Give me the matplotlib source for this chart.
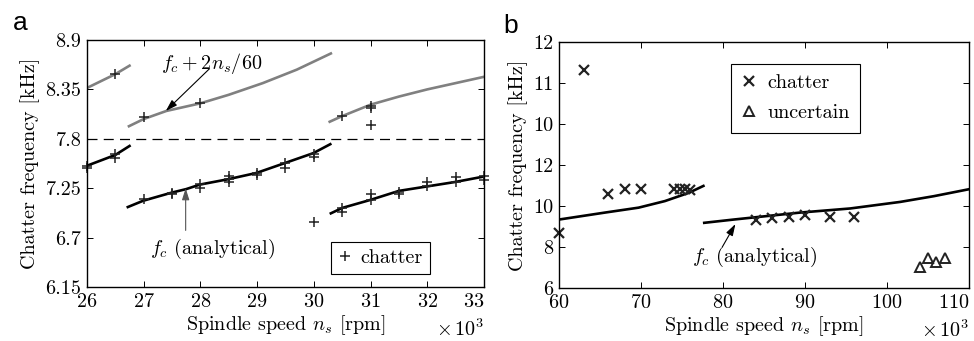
import numpy as np
import matplotlib
matplotlib.use('Agg')
import matplotlib.pyplot as plt

plt.rcParams['font.family'] = 'serif'
plt.rcParams['font.serif'] = ['cmr10']
plt.rcParams['mathtext.fontset'] = 'cm'
plt.rcParams['axes.formatter.use_mathtext'] = True

# ---- panel a data (speed in 10^3 rpm, frequency in kHz) ----
a_gray1_x = [26.0, 26.5, 26.75]
a_gray1_y = [8.366, 8.52, 8.614]
a_gray2_x = [26.74, 27.0, 27.4, 28.0, 28.5, 29.1, 29.7, 30.3]
a_gray2_y = [7.94, 8.02, 8.11, 8.195, 8.29, 8.42, 8.57, 8.75]
a_gray3_x = [30.28, 30.49, 31.0, 31.5, 32.0, 32.5, 33.0]
a_gray3_y = [7.99, 8.05, 8.18, 8.27, 8.35, 8.42, 8.49]

a_blk1_x = [26.0, 26.5, 26.75]
a_blk1_y = [7.50, 7.62, 7.72]
a_blk2_x = [26.72, 26.99, 27.49, 27.75, 27.99, 28.49, 28.99, 29.49, 29.99, 30.29]
a_blk2_y = [7.04, 7.11, 7.20, 7.24, 7.29, 7.35, 7.42, 7.53, 7.64, 7.74]
a_blk3_x = [30.3, 30.5, 31.0, 31.5, 32.0, 32.5, 33.0]
a_blk3_y = [6.97, 7.03, 7.12, 7.22, 7.27, 7.32, 7.38]

a_chat_x = [26, 26, 26.5, 26.5, 26.5, 27, 27, 27.5, 27.5, 28, 28, 28,
            28.5, 28.5, 28.5, 29, 29, 29.5, 29.5, 30, 30, 30,
            30.5, 30.5, 30.5, 31, 31, 31, 31, 31, 31.5, 31.5,
            32, 32, 32.5, 32.5, 33, 33]
a_chat_y = [7.50, 7.47, 8.52, 7.63, 7.59, 8.04, 7.13, 7.20, 7.18, 8.20, 7.30, 7.25,
            7.39, 7.35, 7.32, 7.42, 7.40, 7.53, 7.47, 7.63, 7.60, 6.87,
            8.05, 7.03, 6.98, 8.17, 8.14, 7.95, 7.18, 7.12, 7.21, 7.18,
            7.32, 7.27, 7.37, 7.32, 7.39, 7.34]
a_yticks = [6.15, 6.7, 7.25, 7.8, 8.35, 8.9]
a_yticklabels = ['6.15', '6.7', '7.25', '7.8', '8.35', '8.9']
a_xticks = [26, 27, 28, 29, 30, 31, 32, 33]

# ---- panel b data ----
b_seg1_x = [60, 65.6, 69.7, 72.9, 75.8, 77.6]
b_seg1_y = [7.67, 7.84, 7.96, 8.12, 8.32, 8.49]
b_seg2_x = [77.7, 81.3, 89.4, 95.5, 101.6, 105.7, 110]
b_seg2_y = [7.59, 7.67, 7.84, 7.94, 8.10, 8.24, 8.41]
b_chat_x = [60, 63, 66, 68, 70, 74, 74.7, 75.4, 76, 84, 86, 88, 90, 93, 96]
b_chat_y = [7.33, 11.31, 8.29, 8.41, 8.41, 8.41, 8.41, 8.41, 8.40,
            7.66, 7.70, 7.74, 7.78, 7.72, 7.74]
b_unc_x = [104, 105, 106, 107]
b_unc_y = [6.52, 6.72, 6.64, 6.72]
b_yticks = [6, 7, 8, 9, 10, 11, 12]
b_yticklabels = ['6', '8', '10', '12', '10', '11', '12']
b_xticks = [60, 70, 80, 90, 100, 110]

fig = plt.figure(figsize=(9.74, 3.41), dpi=100)
axa = fig.add_axes([0.0893, 0.1584, 0.4076, 0.7243])
axb = fig.add_axes([0.574, 0.1554, 0.421, 0.7214])

fs = 14.5
gray = '#808080'
arrow = dict(arrowstyle='-|>,head_length=0.7,head_width=0.22', lw=0.8,
             shrinkA=0, shrinkB=0)

# panel a
for xs, ys in [(a_gray1_x, a_gray1_y), (a_gray2_x, a_gray2_y), (a_gray3_x, a_gray3_y)]:
    axa.plot(xs, ys, color=gray, lw=1.9)
for xs, ys in [(a_blk1_x, a_blk1_y), (a_blk2_x, a_blk2_y), (a_blk3_x, a_blk3_y)]:
    axa.plot(xs, ys, color='black', lw=1.9)
axa.axhline(7.8, color='black', lw=0.9, ls=(0, (8, 5)))
axa.plot(a_chat_x, a_chat_y, ls='none', marker='+', ms=6.5, mew=1.1,
         color='#222222', label='chatter', clip_on=False)
axa.set_xlim(26, 33)
axa.set_ylim(6.15, 8.9)
axa.set_xticks(a_xticks)
axa.set_yticks(a_yticks)
axa.set_yticklabels(a_yticklabels)

axa.text(28.19, 8.64, r'$f_c + 2n_s/60$', fontsize=fs, ha='center', va='center')
axa.annotate('', xy=(27.39, 8.11), xytext=(28.16, 8.58),
             arrowprops=dict(color='black', **arrow))
axa.text(28.22, 6.57, r'$f_c$ (analytical)', fontsize=fs, ha='center', va='center')
axa.annotate('', xy=(27.74, 7.25), xytext=(27.74, 6.78),
             arrowprops=dict(color='#555555', **arrow))

lga = axa.legend(loc='lower right', fontsize=fs, handlelength=0.6,
                 handletextpad=0.5, borderpad=0.35, fancybox=False,
                 bbox_to_anchor=(0.864, 0.053), borderaxespad=0,
                 edgecolor='black', framealpha=1)
lga.get_frame().set_linewidth(0.8)
axa.set_xlabel(r'Spindle speed $n_s$ [rpm]', fontsize=fs, labelpad=2)
axa.set_ylabel('Chatter frequency [kHz]', fontsize=fs, labelpad=4)
axa.text(1.0, -0.17, r'$\times\,10^3$', transform=axa.transAxes,
         ha='right', va='center', fontsize=fs)
axa.text(-0.186, 1.067, 'a', transform=axa.transAxes, fontsize=19,
         family='Liberation Sans', va='center', ha='left')

# panel b
axb.plot(b_seg1_x, b_seg1_y, color='black', lw=1.9)
axb.plot(b_seg2_x, b_seg2_y, color='black', lw=1.9)
axb.plot(b_chat_x, b_chat_y, ls='none', marker='x', ms=6.5, mew=1.6,
         color='#222222', label='chatter', clip_on=False)
axb.plot(b_unc_x, b_unc_y, ls='none', marker='^', ms=7, mew=1.4,
         mfc='none', mec='#222222', label='uncertain', clip_on=False)
axb.set_xlim(60, 110)
axb.set_ylim(6, 12)
axb.set_xticks(b_xticks)
axb.set_yticks(b_yticks)
axb.set_yticklabels(b_yticklabels)
axb.text(83.8, 6.75, r'$f_c$ (analytical)', fontsize=fs, ha='center', va='center')
axb.annotate('', xy=(81.5, 7.56), xytext=(79.9, 7.0),
             arrowprops=dict(color='black', **arrow))
lgb = axb.legend(loc='upper left', bbox_to_anchor=(0.42, 0.91), fontsize=fs,
                 handlelength=0.8, handletextpad=0.5, borderpad=0.5,
                 labelspacing=0.6, borderaxespad=0, fancybox=False,
                 edgecolor='black', framealpha=1)
lgb.get_frame().set_linewidth(0.8)
axb.set_xlabel(r'Spindle speed $n_s$ [rpm]', fontsize=fs, labelpad=2)
axb.set_ylabel('Chatter frequency [kHz]', fontsize=fs, labelpad=4)
axb.text(1.0, -0.17, r'$\times\,10^3$', transform=axb.transAxes,
         ha='right', va='center', fontsize=fs)
axb.text(-0.137, 1.067, 'b', transform=axb.transAxes, fontsize=19,
         family='Liberation Sans', va='center', ha='left')

for ax in (axa, axb):
    ax.tick_params(direction='in', top=True, right=True, labelsize=fs,
                   length=4, width=0.7, pad=4)
    for s in ax.spines.values():
        s.set_linewidth(1.0)
    ax.get_xticklabels()[-1].set_ha('right')

fig.savefig('out.png', dpi=100)
